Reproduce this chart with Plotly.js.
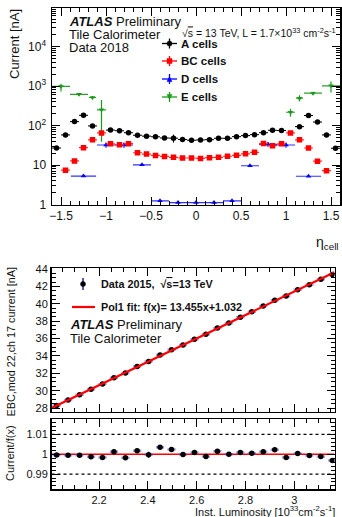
<!DOCTYPE html>
<html><head><meta charset="utf-8">
<script src="https://cdn.plot.ly/plotly-3.0.1.min.js"></script>
<style>html,body{margin:0;padding:0;background:#fff}#plot{width:342px;height:517px}</style>
</head><body><div id="plot"></div>
<script>
// ---------- Top panel data: current vs eta_cell ----------
const etaA = [-1.55,-1.45,-1.35,-1.25,-1.15,-0.95,-0.85,-0.75,-0.65,-0.55,-0.45,-0.35,-0.25,-0.15,-0.05,0.05,0.15,0.25,0.35,0.45,0.55,0.65,0.75,0.85,0.95,1.15,1.25,1.35,1.45,1.55];
const currentA = [27,58,126,182,98,77,74,66,57,54,52,48.5,48,44.5,42.5,43.3,44,47.7,47.7,52.5,55.7,59,66,76,75,94,180,123,58,26.6];
const errA = [1,2,4,5,3,2,2,2,2,2,2,2,11,2,2,2,2,2,2,2,2,2,2,2,2,3,5,4,2,1];
const dEtaA = [0.05,0.05,0.05,0.05,0.05,0.05,0.05,0.05,0.05,0.05,0.05,0.05,0.05,0.05,0.05,0.05,0.05,0.05,0.05,0.05,0.05,0.05,0.05,0.05,0.05,0.05,0.05,0.05,0.05,0.05];

const etaBC = [-1.45,-1.35,-1.25,-1.15,-1.05,-0.95,-0.85,-0.75,-0.65,-0.55,-0.45,-0.35,-0.25,-0.15,-0.05,0.05,0.15,0.25,0.35,0.45,0.55,0.65,0.75,0.85,0.95,1.05,1.15,1.25,1.35,1.45];
const currentBC = [7.4,12.7,27.5,43.5,65,34.5,32.5,34.8,20.5,19,17.5,16.5,15.7,15.1,15.1,14.7,15.4,15.7,16.7,17.6,19.2,21,35,31,34.5,65,43.5,27,12.5,7.2];
const dEtaBC = [0.05,0.05,0.05,0.05,0.05,0.05,0.05,0.05,0.05,0.05,0.05,0.05,0.05,0.05,0.05,0.05,0.05,0.05,0.05,0.05,0.05,0.05,0.05,0.05,0.05,0.05,0.05,0.05,0.05,0.05];

const etaD = [-1.25,-1.0,-0.8,-0.6,-0.4,-0.2,0,0.2,0.4,0.6,0.8,1.0,1.25];
const currentD = [5.25,32.2,32.2,10.1,1.24,1.12,1.12,1.12,1.24,9.6,33.5,32.2,5.2];
const errD = [0.1,5,5,0.3,0.02,0.02,0.02,0.02,0.02,0.3,5,5,0.1];
const dEtaD = [0.14,0.1,0.1,0.1,0.1,0.1,0.1,0.1,0.1,0.1,0.1,0.1,0.14];

const etaE = [-1.5,-1.3,-1.15,-1.05,1.05,1.15,1.3,1.5];
const currentE = [980,620,515,251,218,495,662,1020];
const errEplus = [170,50,45,195,50,90,60,290];
const errEminus = [250,50,45,212,50,90,60,330];
const dEtaE = [0.1,0.1,0.04,0.05,0.05,0.04,0.1,0.1];

// ---------- Bottom panel data: EBC mod 22 ch 17 current vs luminosity ----------
const lumi = [2.026,2.073,2.120,2.167,2.214,2.261,2.308,2.356,2.403,2.450,2.497,2.544,2.591,2.638,2.685,2.732,2.779,2.826,2.873,2.920,2.967,3.014,3.062,3.109,3.156];
const currentEBC = [28.282,28.910,29.542,30.149,30.769,31.492,32.028,32.788,33.354,34.116,34.712,35.255,35.923,36.482,37.215,37.791,38.454,39.076,39.736,40.410,40.883,41.598,42.201,42.813,43.357];
const currentEBCerr = [0.015,0.015,0.015,0.015,0.015,0.015,0.015,0.015,0.05,0.015,0.015,0.015,0.015,0.015,0.015,0.015,0.015,0.015,0.015,0.015,0.015,0.015,0.015,0.015,0.015];
const lumiHalfWidth = [0.017,0.017,0.017,0.017,0.017,0.017,0.017,0.017,0.017,0.017,0.017,0.017,0.017,0.017,0.017,0.017,0.017,0.017,0.017,0.017,0.017,0.017,0.017,0.017,0.017];
const fitSlope = 13.455, fitIntercept = 1.032;
const lumiRange = [2.005, 3.165];

// ---------- helpers ----------
const W = 342, H = 517;
const X = p => p / W, Y = p => 1 - p / H;
const FONT = 'Liberation Sans, Arial, Helvetica, sans-serif';
const fitF = x => fitSlope * x + fitIntercept;

function errs(arr, color, th, minus) {
  const e = {type: 'data', array: arr, color: color, thickness: th, width: 0, visible: true};
  if (minus) { e.symmetric = false; e.arrayminus = minus; }
  return e;
}

const traces = [];
traces.push({x: etaE, y: currentE, type: 'scatter', mode: 'markers', xaxis: 'x', yaxis: 'y',
  marker: {color: '#1a9a1a', size: 5, symbol: 'triangle-down'},
  error_x: errs(dEtaE, '#2ca02c', 1.2), error_y: errs(errEplus, '#1a9a1a', 1.2, errEminus)});
traces.push({x: etaD, y: currentD, type: 'scatter', mode: 'markers', xaxis: 'x', yaxis: 'y',
  marker: {color: '#0000ff', size: 5, symbol: 'triangle-up'},
  error_x: errs(dEtaD, '#3030ff', 1.2), error_y: errs(errD, '#0000ff', 1)});
traces.push({x: etaBC, y: currentBC, type: 'scatter', mode: 'markers', xaxis: 'x', yaxis: 'y',
  marker: {color: '#ff0000', size: 5.5, symbol: 'square'},
  error_x: errs(dEtaBC, '#ff3030', 1.2)});
traces.push({x: etaA, y: currentA, type: 'scatter', mode: 'markers', xaxis: 'x', yaxis: 'y',
  marker: {color: '#000000', size: 5.5, symbol: 'circle'},
  error_x: errs(dEtaA, '#000', 1), error_y: errs(errA, '#000', 1)});

// bottom upper pad
traces.push({x: lumi, y: currentEBC, type: 'scatter', mode: 'markers', xaxis: 'x2', yaxis: 'y2',
  marker: {color: '#000', size: 5.5},
  error_x: errs(lumiHalfWidth, 'rgba(80,80,230,0.55)', 2.5), error_y: errs(currentEBCerr, '#00008b', 1.2)});
traces.push({x: lumiRange, y: lumiRange.map(fitF), type: 'scatter', mode: 'lines', xaxis: 'x2', yaxis: 'y2',
  line: {color: '#ff0000', width: 2.2}});
// bottom lower pad (ratio)
const ratio = currentEBC.map((c, i) => c / fitF(lumi[i]));
const ratioErr = currentEBCerr.map((e, i) => e / fitF(lumi[i]));
traces.push({x: lumiRange, y: lumiRange.map(x => fitF(x) / fitF(x)), type: 'scatter', mode: 'lines', xaxis: 'x3', yaxis: 'y3',
  line: {color: '#ff0000', width: 1.5}});
traces.push({x: lumi, y: ratio, type: 'scatter', mode: 'markers', xaxis: 'x3', yaxis: 'y3',
  marker: {color: '#000', size: 5.5},
  error_x: errs(lumiHalfWidth, 'rgba(80,80,230,0.55)', 2.5), error_y: errs(ratioErr, '#00008b', 1.2)});

const axBase = {showline: true, linecolor: '#000', linewidth: 1.5, mirror: 'allticks', ticks: 'inside',
  ticklen: 8, tickwidth: 1, tickcolor: '#000', showgrid: false, zeroline: false,
  tickfont: {family: FONT, size: 12, color: '#111'}};

const logMinor = [];
for (let d = 0; d < 5; d++) for (let k = 2; k <= 9; k++) logMinor.push(k * Math.pow(10, d));

const layout = {
  width: W, height: H, margin: {l: 0, r: 0, t: 0, b: 0},
  paper_bgcolor: '#fff', plot_bgcolor: '#fff', showlegend: false,
  font: {family: FONT, color: '#111'},
  xaxis: Object.assign({}, axBase, {domain: [X(52), X(340)], range: [-1.6, 1.6], anchor: 'y',
    tickvals: [-1.5, -1, -0.5, 0, 0.5, 1, 1.5], ticktext: ['\u22121.5', '\u22121', '\u22120.5', '0', '0.5', '1', '1.5'],
    minor: {dtick: 0.1, tick0: 0, ticks: 'inside', ticklen: 4, tickcolor: '#000'}}),
  yaxis: Object.assign({}, axBase, {domain: [Y(204.5), Y(8)], type: 'log', range: [0, 4.98], anchor: 'x',
    tickvals: [1, 10, 100, 1000, 10000], ticktext: ['1', '10', '10<sup>2</sup>', '10<sup>3</sup>', '10<sup>4</sup>'],
    ticklabelstandoff: 2,
    minor: {tickmode: 'array', tickvals: logMinor, ticks: 'inside', ticklen: 4, tickcolor: '#000'}}),
  xaxis2: Object.assign({}, axBase, {domain: [X(51.5), X(334.5)], range: lumiRange, anchor: 'y2', matches: 'x3',
    showticklabels: false, tick0: 2, dtick: 0.2,
    minor: {dtick: 0.05, ticks: 'inside', ticklen: 4, tickcolor: '#000'}}),
  yaxis2: Object.assign({}, axBase, {domain: [Y(411.5), Y(268.3)], range: [27.6, 44.08], anchor: 'x2',
    tick0: 0, dtick: 2, tickfont: {family: FONT, size: 11, color: '#111'},
    minor: {dtick: 0.5, ticks: 'inside', ticklen: 4, tickcolor: '#000'}}),
  xaxis3: Object.assign({}, axBase, {domain: [X(51.5), X(334.5)], range: lumiRange, anchor: 'y3',
    tick0: 2, dtick: 0.2, tickfont: {family: FONT, size: 11, color: '#111'},
    minor: {dtick: 0.05, ticks: 'inside', ticklen: 4, tickcolor: '#000'}}),
  yaxis3: Object.assign({}, axBase, {domain: [Y(489), Y(419.3)], range: [0.98247, 1.01758], anchor: 'x3',
    tickvals: [0.99, 1, 1.01], ticktext: ['0.99', '1', '1.01'], tickfont: {family: FONT, size: 11, color: '#111'},
    minor: {dtick: 0.002, tick0: 1, ticks: 'inside', ticklen: 4, tickcolor: '#000'}}),
  shapes: [], annotations: []
};

// dotted reference lines in ratio pad
[0.99, 1.01].forEach(v => layout.shapes.push({type: 'line', xref: 'paper', yref: 'y3',
  x0: X(51.5), x1: X(334.5), y0: v, y1: v, line: {color: '#000', width: 1.3, dash: 'dot'}, layer: 'below'}));

function ann(text, xp, yp, o) {
  layout.annotations.push(Object.assign({text: text, xref: 'paper', yref: 'paper', x: X(xp), y: Y(yp),
    xanchor: 'left', yanchor: 'middle', showarrow: false, font: {family: FONT, size: 12, color: '#111'}}, o || {}));
}
function hline(x0, x1, y, color, w) {
  layout.shapes.push({type: 'line', xref: 'paper', yref: 'paper', x0: X(x0), x1: X(x1), y0: Y(y), y1: Y(y), line: {color: color, width: w}});
}
function vline(x, y0, y1, color, w) {
  layout.shapes.push({type: 'line', xref: 'paper', yref: 'paper', x0: X(x), x1: X(x), y0: Y(y0), y1: Y(y1), line: {color: color, width: w}});
}
function dot(cx, cy, r, color, kind) {
  if (kind === 'circle' || kind === 'rect') {
    layout.shapes.push({type: kind, xref: 'paper', yref: 'paper', x0: X(cx - r), x1: X(cx + r), y0: Y(cy + r), y1: Y(cy - r),
      fillcolor: color, line: {color: color, width: 0.5}});
  } else {
    const p = kind === 'tri-up'
      ? `M${X(cx - r)},${Y(cy + r)} L${X(cx + r)},${Y(cy + r)} L${X(cx)},${Y(cy - r)} Z`
      : `M${X(cx - r)},${Y(cy - r)} L${X(cx + r)},${Y(cy - r)} L${X(cx)},${Y(cy + r)} Z`;
    layout.shapes.push({type: 'path', xref: 'paper', yref: 'paper', path: p, fillcolor: color, line: {color: color, width: 0.5}});
  }
}

// ---- top panel text ----
ann('<b><i>ATLAS</i></b> Preliminary', 67, 22, {font: {family: FONT, size: 13, color: '#111'}});
ann('Tile Calorimeter', 67, 35, {font: {family: FONT, size: 13, color: '#111'}});
ann('Data 2018', 67, 48, {font: {family: FONT, size: 13, color: '#111'}});
ann('\u221a<span style="text-decoration:overline">s</span> = 13 TeV, L = 1.7\u00d710<sup>33</sup> cm<sup>-2</sup>s<sup>-1</sup>', 338, 32,
  {xanchor: 'right', font: {family: FONT, size: 10.5, color: '#111'}});
const legTop = [['A cells', '#000', 'circle', 43.5], ['BC cells', '#ff0000', 'rect', 61], ['D cells', '#0000ff', 'tri-up', 79], ['E cells', '#1a9a1a', 'tri-down', 97]];
legTop.forEach(([t, c, k, y]) => {
  hline(162, 177, y, c, 1.3); vline(169.5, y - 5, y + 5, c, 1.3); dot(169.5, y, 2.5, c, k);
  ann('<b>' + t + '</b>', 179, y, {font: {family: FONT, size: 11.5, color: '#111'}});
});
ann('Current [nA]', 15, 7, {xanchor: 'center', yanchor: 'top', textangle: -90, font: {family: FONT, size: 13, color: '#111'}});
ann('\u03b7<sub>cell</sub>', 341, 243, {xanchor: 'right', font: {family: FONT, size: 14, color: '#111'}});

// ---- bottom panel text ----
vline(83, 278, 290, '#00008b', 1.3); dot(83, 284, 2.5, '#000', 'circle');
ann('<b>Data 2015,  \u221a<span style="text-decoration:overline">s</span>=13 TeV</b>', 99, 284, {font: {family: FONT, size: 10.8, color: '#111'}});
hline(72, 95, 307, '#ff0000', 2.2);
ann('<b>Pol1 fit: f(x)= 13.455x+1.032</b>', 99, 307, {font: {family: FONT, size: 10.8, color: '#111'}});
ann('<b><i>ATLAS</i></b> Preliminary', 68, 324, {font: {family: FONT, size: 13, color: '#111'}});
ann('Tile Calorimeter', 68, 338, {font: {family: FONT, size: 13, color: '#111'}});
ann('EBC,mod 22,ch 17 current [nA]', 10, 266, {xanchor: 'center', yanchor: 'top', textangle: -90, font: {family: FONT, size: 10.8, color: '#111'}});
ann('Current/f(x)', 10, 423, {xanchor: 'center', yanchor: 'top', textangle: -90, font: {family: FONT, size: 11, color: '#111'}});
ann('Inst. Luminosity [10<sup>33</sup>cm<sup>-2</sup>s<sup>-1</sup>]', 337, 510.5, {xanchor: 'right', font: {family: FONT, size: 11, color: '#111'}});

Plotly.newPlot('plot', traces, layout, {staticPlot: true, displayModeBar: false});
</script></body></html>
